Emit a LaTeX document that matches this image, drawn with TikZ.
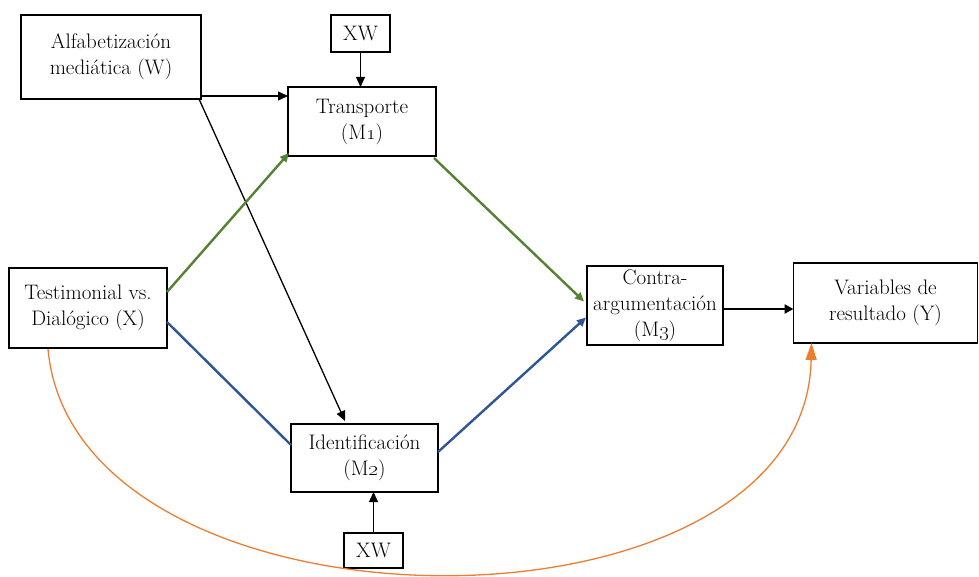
\documentclass[tikz,border=0pt]{standalone}
\usetikzlibrary{arrows.meta,calc}
\definecolor{pathgreen}{HTML}{548235}
\definecolor{pathblue}{HTML}{2F5597}
\definecolor{pathorange}{HTML}{ED7D31}
\begin{document}
\begin{tikzpicture}[x=1pt,y=-1pt,
  box/.style={draw,line width=1.6pt,rectangle,align=center,inner sep=0pt,outer sep=0pt,
    font=\fontsize{21}{26}\selectfont},
  arr/.style={line width=1.3pt,-{Triangle[length=10pt,width=9pt]}},
  greenarr/.style={draw=pathgreen,line width=2.4pt,-{Triangle[length=9pt,width=8pt]},color=pathgreen},
  bluearr/.style={draw=pathblue,line width=2.4pt,-{Triangle[length=9pt,width=8pt]},color=pathblue},
]
\useasboundingbox (0,0) rectangle (979,577);

% variables
\node[box,minimum width=180pt,minimum height=84pt] (W) at (111,57)
  {Alfabetización\\mediática (W)};
\node[box,minimum width=59pt,minimum height=37pt] (XWa) at (360.5,33.5) {XW};
\node[box,minimum width=148pt,minimum height=69pt] (M1) at (362,121.5)
  {Transporte\\(M\oldstylenums{1})};
\node[box,minimum width=158pt,minimum height=80pt] (X) at (88,308)
  {Testimonial vs.\\Dialógico (X)};
\node[box,minimum width=147pt,minimum height=68pt] (M2) at (364.5,458)
  {Identificación\\(M\oldstylenums{2})};
\node[box,minimum width=59pt,minimum height=35pt] (XWb) at (373.5,550.5) {XW};
\node[box,minimum width=136pt,minimum height=79pt] (M3) at (655,305.5)
  {Contra-\\argumentación\\(M\oldstylenums{3})};
\node[box,minimum width=184pt,minimum height=80pt] (Y) at (885.5,303)
  {Variables de\\resultado (Y)};

% moderation paths
\draw[arr] ($(W.south east)+(0,-3)$) -- ($(M1.north west)+(0,9)$);
\draw[arr] ($(W.south east)+(-2,0)$) -- ($(M2.north west)+(54,-3)$);
\draw[arr] (XWa.south) -- (XWa.south |- M1.north);
\draw[arr] (XWb.north) -- (XWb.north |- M2.south);

% indirect path through transport
\draw[greenarr] ($(X.north east)+(0,24)$) -- ($(M1.south west)+(1,-3)$);
\draw[greenarr] ($(M1.south east)+(-2,2)$) -- ($(M3.west)+(-3,-4)$);

% indirect path through identification
\draw[pathblue,line width=2.4pt] ($(X.north east)+(0,54)$) -- ($(M2.west)+(0,-13)$);
\draw[bluearr] ($(M2.east)+(0,-6)$) -- ($(M3.west)+(-1,12)$);

% counter-arguing to outcomes
\draw[line width=2.6pt,-{Triangle[length=9pt,width=9pt]}] ($(M3.east)+(0,3.5)$) -- ($(Y.west)+(0,6)$);

% direct effect
\draw[pathorange,line width=1.3pt,-{Triangle[length=17pt,width=11pt]}]
  ($(X.south west)+(39,1)$) .. controls (75,647) and (805,652) .. ($(Y.south west)+(18,0)$);
\end{tikzpicture}
\end{document}
